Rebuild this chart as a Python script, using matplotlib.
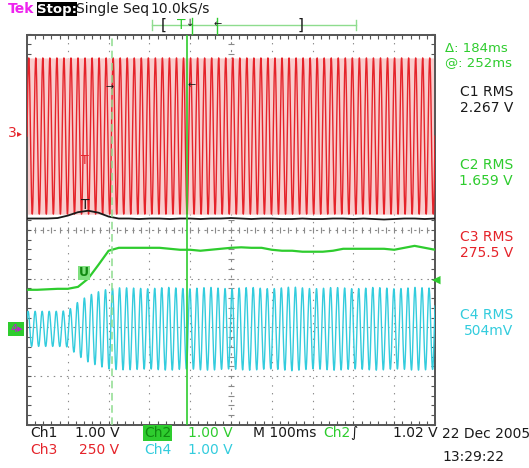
import numpy as np
import matplotlib.pyplot as plt
from matplotlib.ticker import MultipleLocator

plt.rcParams['font.family'] = ['Liberation Sans Narrow', 'DejaVu Sans']

W, H = 529, 468

# record time, ms (10 div x 100 ms/div)
t_ms = np.arange(0, 1001, 25)

# Ch1 (black) in divisions from screen centre
ch1_div = [0.23, 0.23, 0.23, 0.24, 0.29, 0.36, 0.39, 0.35, 0.27, 0.23,
           0.23, 0.22, 0.23, 0.23, 0.22, 0.23, 0.23, 0.22, 0.23, 0.23,
           0.24, 0.23, 0.22, 0.23, 0.23, 0.22, 0.22, 0.23, 0.22, 0.22,
           0.23, 0.23, 0.22, 0.23, 0.22, 0.21, 0.22, 0.23, 0.23, 0.22, 0.23]

# Ch2 (green) in divisions
ch2_div = [-1.23, -1.23, -1.22, -1.21, -1.21, -1.17, -1.00, -0.72, -0.43, -0.37,
           -0.37, -0.37, -0.37, -0.37, -0.39, -0.41, -0.41, -0.43, -0.41, -0.39,
           -0.37, -0.36, -0.37, -0.37, -0.41, -0.43, -0.43, -0.45, -0.45, -0.45,
           -0.43, -0.39, -0.39, -0.39, -0.39, -0.39, -0.41, -0.37, -0.33, -0.37, -0.41]

# Ch4 (cyan) envelope, divisions
ch4_amp = [0.36, 0.36, 0.36, 0.36, 0.37, 0.55, 0.68, 0.76, 0.82, 0.84,
           0.84, 0.83, 0.82, 0.84, 0.85, 0.83, 0.82, 0.84, 0.85, 0.83,
           0.82, 0.84, 0.85, 0.83, 0.82, 0.84, 0.86, 0.84, 0.82, 0.83,
           0.85, 0.84, 0.82, 0.83, 0.85, 0.84, 0.82, 0.83, 0.85, 0.84, 0.83]
ch4_offset = -2.03

# Ch3 (red) mains voltage
ch3_offset = 1.92
ch3_amp = 1.6
mains_hz = 58
sample_rate = 10000

cursor_a_ms = 208
cursor_b_ms = 392

RED = '#e5232a'
PINK = '#f9cdcd'
GREEN = '#2ecc2e'
LGREEN = '#8edc8e'
CYAN = '#33ccdd'
BLACK = '#1a1a1a'
GRID = '#8a8a8a'

fig = plt.figure(figsize=(W / 100, H / 100), dpi=100)
ax = fig.add_axes([27 / W, 43 / H, 408 / W, 390.5 / H])
ax.set_xlim(-5, 5)
ax.set_ylim(-4, 4)


def tdiv(t):
    return np.asarray(t) / 100.0 - 5


# graticule
for k in range(-4, 5):
    if k != 0:
        ax.axvline(k, color=GRID, lw=0.8, ls=(0, (1.2, 5.8)), zorder=1)
for k in range(-3, 4):
    if k != 0:
        ax.axhline(k, color=GRID, lw=0.8, ls=(0, (1.4, 4.5)), zorder=1)
ax.axhline(0, color=GRID, lw=0.8, ls=(0, (2, 3.9)), zorder=1)
ax.axvline(0, color=GRID, lw=0.8, ls=(0, (2, 5)), zorder=1)
mx = np.arange(-5, 5.01, 0.2)
my = np.arange(-4, 4.01, 0.2)
ax.plot(mx, np.zeros_like(mx), ls='none', marker='|', ms=5, mew=0.8, color=GRID, zorder=1)
ax.plot(np.zeros_like(my), my, ls='none', marker='_', ms=5, mew=0.8, color=GRID, zorder=1)

ax.set_xticks([])
ax.set_yticks([])
ax.xaxis.set_minor_locator(MultipleLocator(0.2))
ax.yaxis.set_minor_locator(MultipleLocator(0.2))
ax.tick_params(which='minor', direction='in', length=3, width=0.8, color='#555555',
               top=True, right=True, labelbottom=False, labelleft=False)
for s in ax.spines.values():
    s.set_color('#555555')
    s.set_linewidth(1.4)

# traces
ts = np.arange(0, 1000.01, 1000 / sample_rate)
xs = tdiv(ts)
red = ch3_offset + ch3_amp * np.sin(2 * np.pi * mains_hz * ts / 1000)
ax.fill_between(xs, ch3_offset - ch3_amp, ch3_offset + ch3_amp, color=PINK, lw=0, zorder=2)
ax.plot(xs, red, color=RED, lw=1.0, zorder=3)

env = np.interp(ts, t_ms, ch4_amp)
cyan = ch4_offset + env * np.sin(2 * np.pi * mains_hz * ts / 1000 + 0.6)
ax.plot(xs, cyan, color=CYAN, lw=1.0, zorder=3)

ax.plot(tdiv(t_ms), ch1_div, color=BLACK, lw=1.3, zorder=4)
ax.plot(tdiv(t_ms), ch2_div, color=GREEN, lw=1.6, zorder=4)

# cursors
ax.axvline(tdiv(cursor_a_ms), color=LGREEN, lw=1.1, ls=(0, (5, 3)), zorder=5)
ax.axvline(tdiv(cursor_b_ms), color=GREEN, lw=1.2, zorder=5)


def put(px, py, s, **kw):
    kw.setdefault('va', 'center')
    kw.setdefault('fontsize', 10)
    fig.text(px / W, 1 - py / H, s, **kw)


# header
put(8, 9, 'Tek', color='#ee22ee', fontweight='bold')
put(37, 9, 'Stop:', color='white', fontweight='bold', fontsize=9.5,
    bbox=dict(boxstyle='square,pad=0.02', fc='black', ec='none'))
put(76, 9, 'Single Seq', color=BLACK)
put(150, 9, '10.0kS/s', color=BLACK)

# record bar on top
fig.add_artist(plt.Line2D([152 / W, 356 / W], [1 - 25 / H] * 2, color=LGREEN, lw=1))
for xp in (152, 356):
    fig.add_artist(plt.Line2D([xp / W] * 2, [1 - 20 / H, 1 - 30 / H], color=LGREEN, lw=1))
for xp in (192, 217):
    fig.add_artist(plt.Line2D([xp / W] * 2, [1 - 18 / H, 1 - 34 / H], color=GREEN, lw=1))
put(161, 25, '[', color=BLACK, fontsize=11)
put(298, 25, ']', color=BLACK, fontsize=11)
put(177, 25, 'T', color=GREEN, fontsize=10)
put(186, 23, '↓', color=BLACK, fontsize=7)
put(214, 24, '←', color=BLACK, fontsize=7)

# channel markers
put(8, 133, '3', color=RED, fontsize=10)
put(17, 133, '▸', color=RED, fontsize=7)
put(10, 329, '4▸', color='#bb22cc', fontsize=8,
    bbox=dict(boxstyle='square,pad=0.15', fc=GREEN, ec='none'))
put(432, 280, '◀', color=GREEN, fontsize=8)
put(85, 160, 'T', color=RED, fontsize=9, ha='center')
put(85, 205, 'T', color=BLACK, fontsize=10, ha='center')
put(84, 273, 'U', color='#118811', fontsize=9, ha='center', fontweight='bold',
    bbox=dict(boxstyle='square,pad=0.05', fc='#7fe07f', ec='none'))
put(106, 87, '→', color=BLACK, fontsize=7)
put(188, 85, '←', color=BLACK, fontsize=7)

# readouts on the right
put(445, 48, 'Δ: 184ms', color=GREEN, fontsize=9.5)
put(445, 63, '@: 252ms', color=GREEN, fontsize=9.5)
put(513, 92, 'C1 RMS', color=BLACK, ha='right')
put(513, 108, '2.267 V', color=BLACK, ha='right')
put(513, 165, 'C2 RMS', color=GREEN, ha='right')
put(513, 181, '1.659 V', color=GREEN, ha='right')
put(513, 237, 'C3 RMS', color=RED, ha='right')
put(513, 253, '275.5 V', color=RED, ha='right')
put(513, 315, 'C4 RMS', color=CYAN, ha='right')
put(513, 331, '504mV', color=CYAN, ha='right')

# bottom settings
put(30, 433, 'Ch1', color=BLACK)
put(75, 433, '1.00 V', color=BLACK)
put(144, 433, 'Ch2', color='#118811',
    bbox=dict(boxstyle='square,pad=0.05', fc=GREEN, ec='none'))
put(188, 433, '1.00 V', color=GREEN)
put(253, 433, 'M 100ms', color=BLACK)
put(323, 433, 'Ch2', color=GREEN)
put(350, 433, '∫', color=BLACK)
put(393, 433, '1.02 V', color=BLACK)
put(30, 450, 'Ch3', color=RED)
put(79, 450, '250 V', color=RED)
put(144, 450, 'Ch4', color=CYAN)
put(188, 450, '1.00 V', color=CYAN)
put(442, 434, '22 Dec 2005', color=BLACK)
put(442, 457, '13:29:22', color=BLACK)

fig.savefig('out.png', dpi=100)
